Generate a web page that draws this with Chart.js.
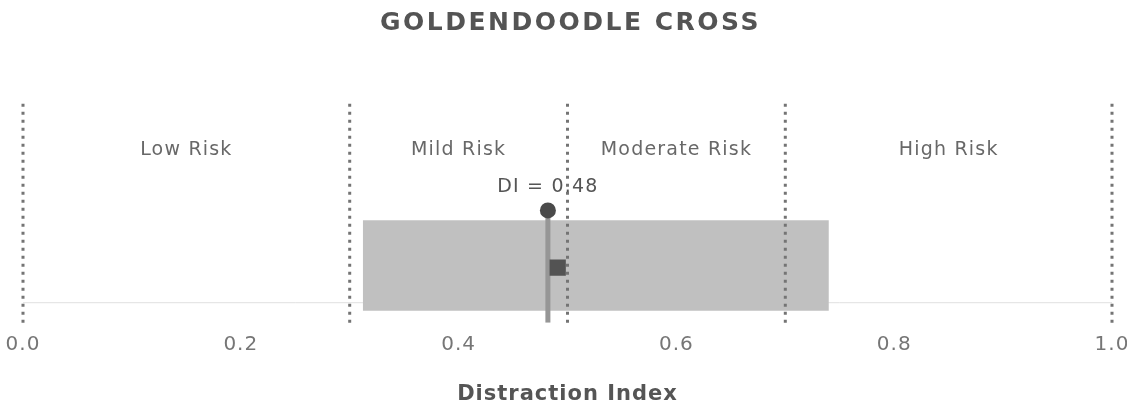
<!DOCTYPE html>
<html>
<head>
<meta charset="utf-8">
<script src="https://cdn.jsdelivr.net/npm/chart.js@4"></script>
<style>
  html, body { margin: 0; padding: 0; background: #ffffff; }
  #wrap { width: 1127px; height: 402px; }
</style>
</head>
<body>
<div id="wrap"><canvas id="chart"></canvas></div>
<script>
// ----------------------------------------------------------------------------
// data
// ----------------------------------------------------------------------------
const chartTitle    = 'GOLDENDOODLE CROSS';
const axisTitle     = 'Distraction Index';
const xTicks        = [0, 0.2, 0.4, 0.6, 0.8, 1.0];
const thresholds    = [0, 0.3, 0.5, 0.7, 1.0];
const riskNames     = ['Low Risk', 'Mild Risk', 'Moderate Risk', 'High Risk'];
const riskCenters   = [0.15, 0.40, 0.60, 0.85];
const diValue       = 0.482;           // the dot + stem
const rangeLow      = 0.312;           // gray band start
const rangeHigh     = 0.740;           // gray band end
const markerValue   = 0.491;           // the dark square

// vertical layout on a hidden 0..1 y scale
const bandTop = 0.464, bandBottom = 0.055, baseLine = 0.091;
const dotY = 0.509, squareY = 0.25, labelY = 0.782, diLabelY = 0.615;

const textGray = '#686868';
const font = "'DejaVu Sans', Verdana, sans-serif";

// datasets: the first one is painted on top
const datasets = [];

// dark square
datasets.push({
    type: 'scatter',
    data: [{x: markerValue, y: squareY}],
    pointStyle: 'rect', pointRadius: 11.5,
    pointBackgroundColor: '#535353', pointBorderWidth: 0
});

// dot on top of the stem
datasets.push({
    type: 'scatter',
    data: [{x: diValue, y: dotY}],
    pointRadius: 8, pointBackgroundColor: '#4a4a4a', pointBorderWidth: 0
});

// stem of the DI marker
datasets.push({
    type: 'line',
    data: [{x: diValue, y: 0}, {x: diValue, y: dotY}],
    borderColor: '#969696', borderWidth: 5, pointRadius: 0
});

// dotted threshold lines (not clipped, so the edge ones keep full width)
thresholds.forEach(t => {
    datasets.push({
        type: 'line',
        data: [{x: t, y: 0}, {x: t, y: 1}],
        borderColor: '#747474', borderWidth: 3, borderDash: [3, 5],
        pointRadius: 0,
        clip: false
    });
});

// gray band, filled down to its bottom
datasets.push({
    type: 'line',
    data: [{x: rangeLow, y: bandTop}, {x: rangeHigh, y: bandTop}],
    borderWidth: 0, pointRadius: 0,
    backgroundColor: '#c0c0c0',
    fill: {value: bandBottom}
});

// faint base line
datasets.push({
    type: 'line',
    data: [{x: 0, y: baseLine}, {x: 1, y: baseLine}],
    borderColor: '#e0e0e0', borderWidth: 1, pointRadius: 0
});

//-----------------------------------------------------------------------------
//  a bit of letter spacing, the scanned text runs wide
//-----------------------------------------------------------------------------
const spacingPlugin = {
    id: 'spacing',
    beforeLayout(chart) { chart.ctx.letterSpacing = '1px'; },
    beforeDraw(chart)   { chart.ctx.letterSpacing = '1px'; }
};

//-----------------------------------------------------------------------------
//  writes the title, the risk names and the DI label
//-----------------------------------------------------------------------------
const labelPlugin = {
    id: 'riskLabels',
    afterDatasetsDraw(chart) {
        const {ctx, scales: {x, y}} = chart;
        ctx.save();
        ctx.textAlign = 'center';
        ctx.textBaseline = 'middle';

        ctx.font = `bold 25px ${font}`;
        ctx.letterSpacing = '2.5px';
        ctx.fillStyle = '#545454';
        ctx.fillText(chartTitle, (x.left + x.right) / 2 + 3, 23);

        ctx.font = `19px ${font}`;
        ctx.letterSpacing = '1.2px';
        ctx.fillStyle = textGray;
        riskNames.forEach((name, i) => {
            ctx.fillText(name, x.getPixelForValue(riskCenters[i]), y.getPixelForValue(labelY));
        });
        ctx.fillStyle = '#555555';
        ctx.fillText(`DI = ${diValue.toFixed(2)}`, x.getPixelForValue(diValue), y.getPixelForValue(diLabelY));
        ctx.restore();
    }
};

new Chart(document.getElementById('chart').getContext('2d'), {
    type: 'scatter',
    data: {datasets: datasets},
    plugins: [spacingPlugin, labelPlugin],
    options: {
        responsive: true,
        maintainAspectRatio: false,
        animation: false,
        layout: {
            padding: {left: 23, right: 15, top: 102, bottom: -5}
        },
        plugins: {
            legend: {display: false},
            tooltip: {enabled: false},
            title: {display: false}
        },
        scales: {
            x: {
                type: 'linear',
                min: 0, max: 1,
                afterBuildTicks: axis => { axis.ticks = xTicks.map(v => ({value: v})); },
                // let the layout padding alone decide the side margins
                afterFit: axis => { axis.paddingLeft = 0; axis.paddingRight = 0; },
                grid: {display: false, drawTicks: false},
                border: {display: false},
                ticks: {
                    color: '#767676',
                    padding: 10,
                    maxRotation: 0,
                    font: {family: font, size: 20},
                    callback: v => v.toFixed(1)
                },
                title: {
                    display: true,
                    text: axisTitle,
                    color: '#555555',
                    font: {family: font, size: 21, weight: 'bold'},
                    padding: {top: 15, bottom: 0}
                }
            },
            y: {
                display: false,
                min: 0, max: 1
            }
        }
    }
});
</script>
</body>
</html>
